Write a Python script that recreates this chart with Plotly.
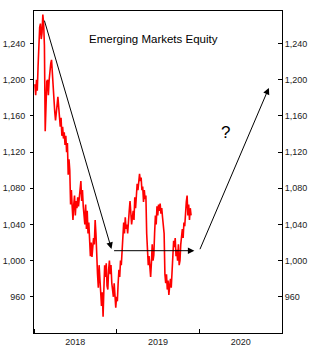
import pandas as pd
import plotly.graph_objects as go

# Twice-weekly index levels
start_date = "2018-01-05"
values = [
    1195, 1183, 1200, 1188, 1215, 1240, 1258, 1262, 1245, 1252,
    1272, 1262, 1238, 1143, 1180, 1198, 1200, 1183, 1200, 1212,
    1218, 1222, 1205, 1192, 1178, 1165, 1155, 1168, 1172, 1181,
    1170, 1155, 1148, 1158, 1138, 1148, 1135, 1142, 1128, 1138,
    1120, 1130, 1095, 1112, 1100, 1062, 1078, 1060, 1045, 1062,
    1072, 1050, 1066, 1058, 1070, 1060, 1072, 1082, 1088, 1066,
    1078, 1060, 1050, 1040, 1062, 1035, 1055, 1030, 1042, 1022,
    1005, 1020, 1004, 1015, 1025, 1018, 1045, 1030, 995, 985,
    970, 995, 980, 958, 950, 965, 938, 968, 995, 982,
    997, 972, 968, 990, 1000, 985, 995, 975, 968, 960,
    975, 952, 948, 960, 955, 975, 990, 982, 1000, 995,
    1015, 1025, 1042, 1030, 1048, 1035, 1040, 1030, 1048, 1055,
    1066, 1050, 1040, 1048, 1055, 1045, 1070, 1058, 1072, 1085,
    1078, 1090, 1096, 1088, 1092, 1078, 1082, 1065, 1078, 1068,
    1072, 1030, 1015, 995, 1005, 990, 982, 998, 1018, 1000,
    1006, 1030, 1050, 1040, 1060, 1050, 1062, 1055, 1063, 1052,
    1058, 1048, 1040, 1030, 985, 975, 985, 968, 978, 962,
    972, 980, 970, 995, 1005, 1022, 1015, 1025, 1005, 1012,
    1000, 1018, 995, 1000, 1018, 1028, 1035, 1025, 1042, 1038,
    1055, 1065, 1072, 1050, 1062, 1045, 1058, 1050,
]
dates = pd.date_range(start_date, periods=len(values), freq="84h")

y_ticks = [960, 1000, 1040, 1080, 1120, 1160, 1200, 1240]
y_range = [920, 1276]
x_range = ["2018-01-01", "2020-12-31"]

title_text = "Emerging Markets Equity"
question_text = "?"

# Arrows: (tail date, tail value, head date, head value)
arrows = [
    ("2018-02-14", 1267, "2018-12-09", 1013),
    ("2018-12-14", 1011, "2019-12-10", 1011),
    ("2020-01-01", 1011, "2020-11-03", 1191),
]

font_family = "Liberation Sans, Arial, sans-serif"

fig = go.Figure()
fig.add_trace(go.Scatter(
    x=dates, y=values, mode="lines",
    line=dict(color="#ff0000", width=1.6),
    showlegend=False, hoverinfo="skip",
))
# invisible trace for right axis
fig.add_trace(go.Scatter(
    x=[dates[0]], y=[values[0]], yaxis="y2", mode="markers",
    marker=dict(opacity=0), showlegend=False, hoverinfo="skip",
))

for tx, ty, hx, hy in arrows:
    fig.add_annotation(
        x=hx, y=hy, ax=tx, ay=ty, xref="x", yref="y", axref="x", ayref="y",
        showarrow=True, arrowhead=2, arrowsize=1.3, arrowwidth=1,
        arrowcolor="#000000", text="",
    )

fig.add_annotation(
    x=0.48, y=0.913, xref="paper", yref="paper", text=title_text,
    xanchor="center", yanchor="middle",
    showarrow=False, font=dict(family=font_family, size=11.5, color="#000000"),
)
fig.add_annotation(
    x="2020-04-25", y=1142, xref="x", yref="y", text=question_text,
    xanchor="center", yanchor="middle",
    showarrow=False, font=dict(family=font_family, size=17, color="#000000"),
)

fig.update_layout(
    width=319, height=357,
    margin=dict(l=34, r=37, t=11, b=24, autoexpand=False),
    paper_bgcolor="white", plot_bgcolor="white",
    font=dict(family=font_family, size=9, color="#222222"),
    xaxis=dict(
        type="date", range=x_range, showgrid=False, zeroline=False,
        automargin=False,
        showline=True, linecolor="black", linewidth=1, mirror=True,
        ticks="inside", ticklen=4, tickcolor="black",
        dtick="M12", tick0="2018-01-01", tickformat="%Y",
        ticklabelmode="period",
        tickfont=dict(size=9, color="#222222"),
    ),
    yaxis=dict(
        range=y_range, tickvals=y_ticks, tickformat=",d",
        showgrid=False, zeroline=False, automargin=False,
        showline=True, linecolor="black", linewidth=1,
        ticks="outside", ticklen=3, tickcolor="black",
        ticklabelstandoff=3,
        tickfont=dict(size=9, color="#222222"),
    ),
    yaxis2=dict(
        range=y_range, tickvals=y_ticks, tickformat=",d",
        overlaying="y", side="right", automargin=False,
        showgrid=False, zeroline=False,
        showline=True, linecolor="black", linewidth=1,
        ticks="inside", ticklen=4, tickcolor="black",
        tickfont=dict(size=9, color="#222222"),
    ),
)

fig.write_html("out.html")
